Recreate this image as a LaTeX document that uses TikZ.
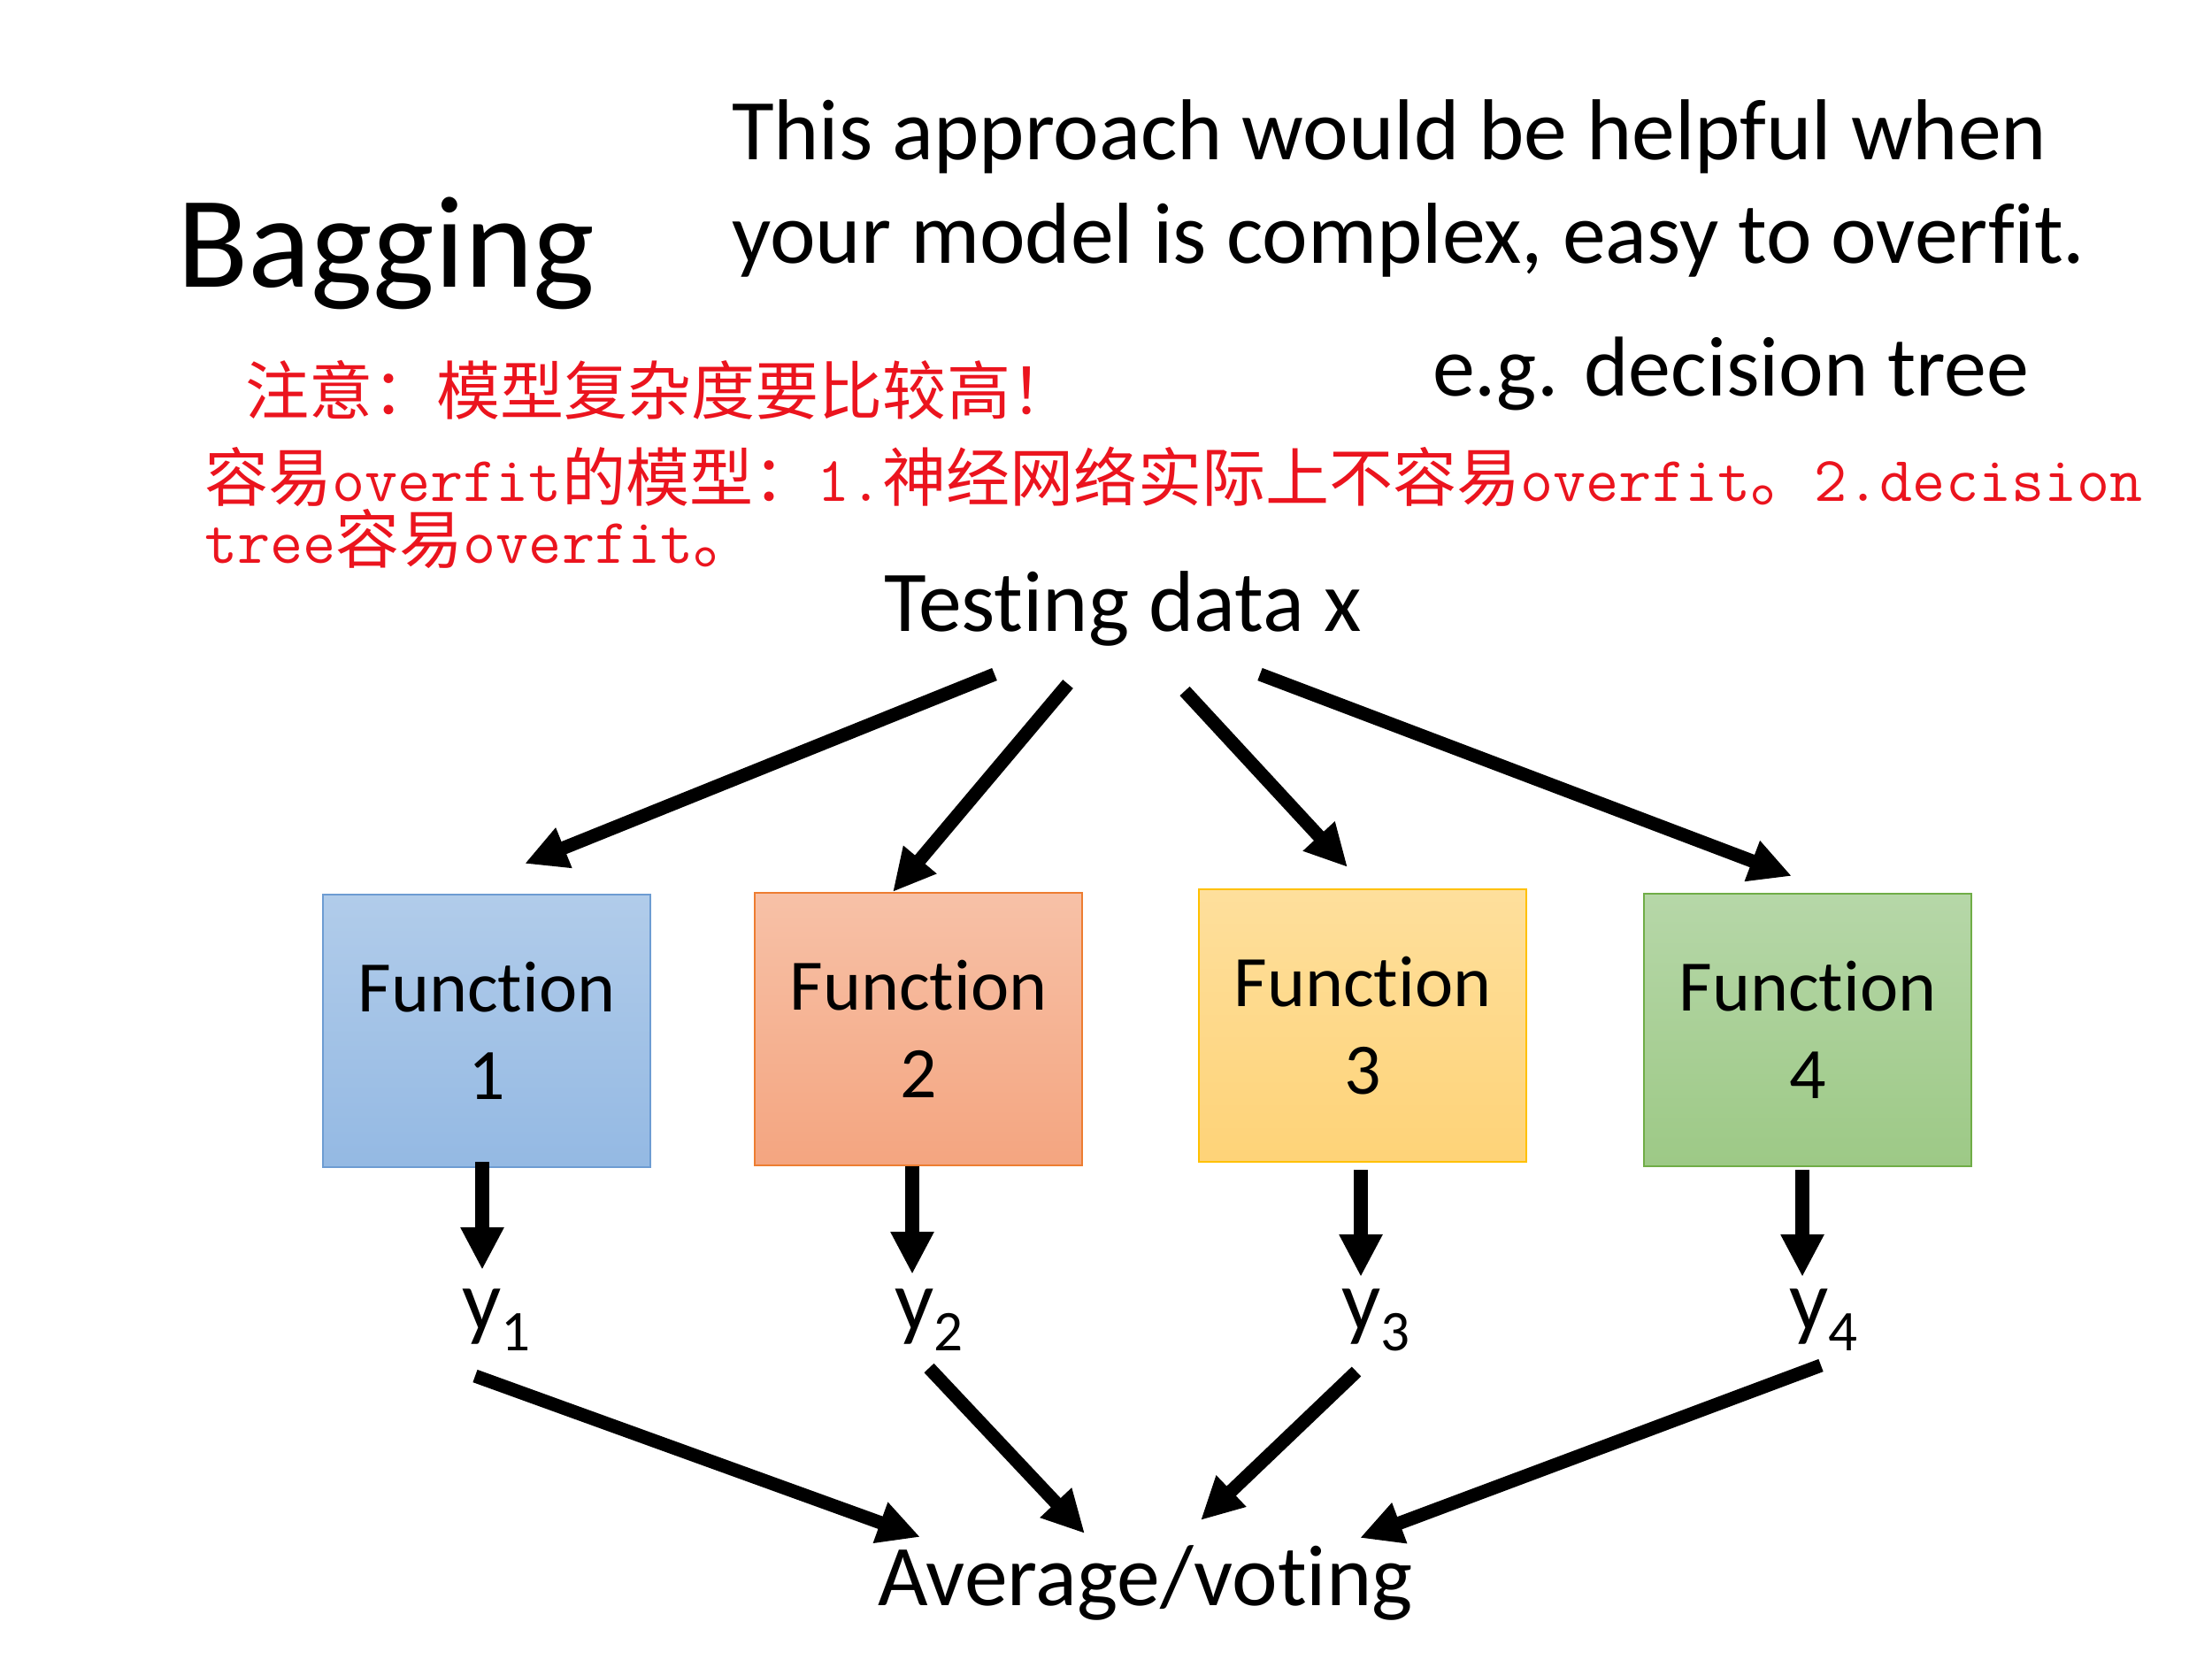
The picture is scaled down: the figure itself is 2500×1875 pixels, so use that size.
\documentclass[tikz,border=0pt]{standalone}
\usepackage{fontspec}
\setmainfont{Carlito}[Ligatures=NoCommon]
\newfontfamily\cjkfont{Noto Sans CJK SC}
\usetikzlibrary{arrows.meta}

\newcommand\zhs[1]{{\cjkfont #1}}
\newcommand\lat[1]{{\ttfamily #1}}
\newcommand\ysub[2]{#1\raisebox{-6.8pt}{\fontsize{18.5pt}{20pt}\selectfont #2}}
\newcommand\tightlines{\lineskiplimit -30pt\relax}

\definecolor{notered}{RGB}{235,20,30}
\definecolor{blueT}{RGB}{177,204,234}
\definecolor{blueB}{RGB}{148,185,227}
\definecolor{blueD}{RGB}{109,156,210}
\definecolor{orangeT}{RGB}{247,193,167}
\definecolor{orangeB}{RGB}{244,165,128}
\definecolor{orangeD}{RGB}{237,125,49}
\definecolor{goldT}{RGB}{254,223,156}
\definecolor{goldB}{RGB}{254,211,120}
\definecolor{goldD}{RGB}{255,192,0}
\definecolor{greenT}{RGB}{182,215,168}
\definecolor{greenB}{RGB}{157,201,134}
\definecolor{greenD}{RGB}{112,173,71}

\begin{document}
\begin{tikzpicture}[x=0.01cm,y=-0.01cm,
  every node/.style={inner sep=0pt, outer sep=0pt},
  bigtext/.style={font=\fontsize{27.8pt}{33pt}\selectfont, anchor=base west},
  note/.style={text=notered, font={\fontsize{20.5pt}{19.9pt}\selectfont\tightlines},
    anchor=base west, align=left},
  funcbox/.style={draw, line width=0.6pt, minimum width=3.7cm, minimum height=3.07cm,
    align=center, font=\fontsize{23.3pt}{28.2pt}\selectfont},
  bigarrow/.style={line width=4.3pt, -{Triangle[length=13.6pt,width=13pt]}}]

\useasboundingbox (0,0) rectangle (2500,1875);
\fill[white] (0,0) rectangle (2500,1875);

% headings
\node[anchor=base west, font=\fontsize{42pt}{50pt}\selectfont] (title) at (200,324) {Bagging};
\node[bigtext] (hint1) at (827,180) {This approach would be helpful when};
\node[bigtext] (hint2) at (827,297) {your model is complex, easy to overfit.};
\node[bigtext, font=\fontsize{27.3pt}{33pt}\selectfont] (example) at (1619,447) {e.g. decision tree};

% notes (the base anchor of a two-line node is its last baseline)
\node[note] (note1) at (277,468) {\zhs{注意：模型复杂度要比较高！}};
\node[note] (note2) at (231,636) {\zhs{容易}\lat{overfit}\zhs{的模型：}\lat{1.}\zhs{神经网络实际上不容易}\lat{overfit}\zhs{。}\lat{2.decision}\\
  \lat{tree}\zhs{容易}\lat{overfit}\zhs{。}};

% input and output
\node[bigtext] (input) at (999,713) {Testing data x};
\node[bigtext] (output) at (992,1814) {Average/voting};

% functions
\node[funcbox, draw=blueD, top color=blueT, bottom color=blueB] (f1) at (550,1165) {Function\\1};
\node[funcbox, draw=orangeD, top color=orangeT, bottom color=orangeB] (f2) at (1038,1163) {Function\\2};
\node[funcbox, draw=goldD, top color=goldT, bottom color=goldB] (f3) at (1540,1159) {Function\\3};
\node[funcbox, draw=greenD, top color=greenT, bottom color=greenB] (f4) at (2043,1164) {Function\\4};

% outputs of the functions
\node[bigtext] (y1) at (522,1503) {\ysub{y}{1}};
\node[bigtext] (y2) at (1011,1503) {\ysub{y}{2}};
\node[bigtext] (y3) at (1516,1503) {\ysub{y}{3}};
\node[bigtext] (y4) at (2022,1503) {\ysub{y}{4}};

% arrow end points
\coordinate (s1) at (1124,762);  \coordinate (e1) at (593,976);
\coordinate (s2) at (1207,773);  \coordinate (e2) at (1009,1008);
\coordinate (s3) at (1339,781);  \coordinate (e3) at (1523,980);
\coordinate (s4) at (1424,762);  \coordinate (e4) at (2025,990);

\coordinate (d1s) at (545,1313);  \coordinate (d1e) at (545,1435);
\coordinate (d2s) at (1031,1318); \coordinate (d2e) at (1031,1440);
\coordinate (d3s) at (1538,1322); \coordinate (d3e) at (1538,1443);
\coordinate (d4s) at (2037,1322); \coordinate (d4e) at (2037,1443);

\coordinate (b1s) at (537,1555);  \coordinate (b1e) at (1040,1737);
\coordinate (b2s) at (1050,1546); \coordinate (b2e) at (1226,1733);
\coordinate (b3s) at (1533,1550); \coordinate (b3e) at (1357,1718);
\coordinate (b4s) at (2058,1543); \coordinate (b4e) at (1537,1738);

% arrows
\foreach \a in {1,2,3,4} {
  \draw[bigarrow] (s\a) -- (e\a);
  \draw[bigarrow] (d\a s) -- (d\a e);
  \draw[bigarrow] (b\a s) -- (b\a e);
}
\end{tikzpicture}
\end{document}
